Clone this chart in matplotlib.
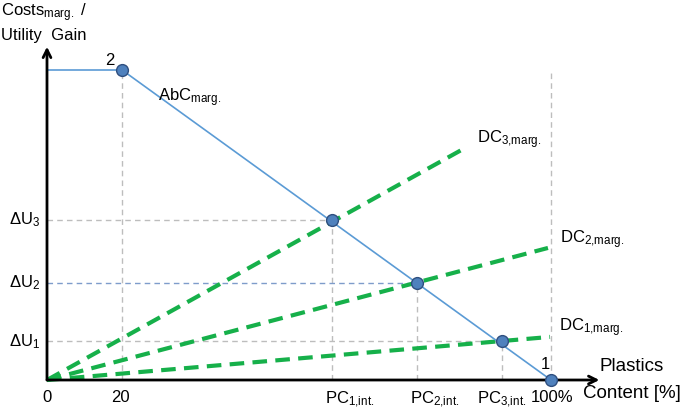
import matplotlib
matplotlib.use('Agg')
import matplotlib.pyplot as plt

plt.rcParams['font.family'] = ['Liberation Sans', 'DejaVu Sans']
plt.rcParams['mathtext.fontset'] = 'custom'
plt.rcParams['mathtext.rm'] = 'Liberation Sans'
plt.rcParams['mathtext.it'] = 'Liberation Sans'

# abatement cost curve (AbC): plateau then linear drop
abc_x = [0, 14.9, 100]
abc_y = [100, 100, 0]

# intersection points of AbC with the DC lines
pc_x = [56.6, 73.4, 90.3]
pc_y = [51.6, 31.3, 12.5]
pc_labels = ['PC$_{\\mathrm{1{,}int.}}$', 'PC$_{\\mathrm{2{,}int.}}$', 'PC$_{\\mathrm{3{,}int.}}$']
pc_label_left = [55.2, 72.0, 85.3]
du_labels = ['$\\Delta$U$_3$', '$\\Delta$U$_2$', '$\\Delta$U$_1$']

# marginal damage cost lines from origin: end points
dc_end_x = [82.9, 99.4, 99.8]
dc_end_y = [74.8, 42.6, 13.9]
dc_labels = ['DC$_{\\mathrm{3{,}marg.}}$', 'DC$_{\\mathrm{2{,}marg.}}$', 'DC$_{\\mathrm{1{,}marg.}}$']

xtick_pos = [0, 14.5, 100.2]
xtick_txt = ['0', '20', '100%']

blue = '#5B9BD5'
dot_face = '#4F81BD'
dot_edge = '#2F4F7F'
green = '#16B04A'
grey = '#BDBDBD'

fig = plt.figure(figsize=(6.85, 4.12), dpi=100)
ax = fig.add_axes([0, 0, 1, 1])
ax.set_xlim(-9.325, 126.59)
ax.set_ylim(-10.32, 122.58)
ax.axis('off')

# helper grid lines
ax.plot([abc_x[1], abc_x[1]], [0, abc_y[1]], ls=(0, (4, 3)), color=grey, lw=1)
ax.plot([100, 100], [0, 99], ls=(0, (4, 3)), color=grey, lw=1)
for i, (x, y) in enumerate(zip(pc_x, pc_y)):
    ax.plot([x, x], [0, y], ls=(0, (4, 3)), color=grey, lw=1)
    hc = '#7E9CCB' if i == 1 else grey
    ax.plot([0, x], [y, y], ls=(0, (4, 3)), color=hc, lw=1)

# DC lines
for ex, ey in zip(dc_end_x, dc_end_y):
    ax.plot([0, ex], [0, ey], ls=(0, (3.5, 2)), color=green, lw=3)

# AbC curve
ax.plot(abc_x, abc_y, color=blue, lw=1.2)
ax.plot([abc_x[1], abc_x[2]], [abc_y[1], abc_y[2]], 'o', ms=8.5,
        mfc=dot_face, mec=dot_edge, mew=1, zorder=5)
ax.plot(pc_x, pc_y, 'o', ms=8.5, mfc=dot_face, mec=dot_edge, mew=1, zorder=5)

# axes with arrows
ax.annotate('', xy=(0, 107.5), xytext=(0, 0),
            arrowprops=dict(arrowstyle='->', lw=2, color='black', mutation_scale=14, shrinkA=0, shrinkB=0))
ax.annotate('', xy=(109.6, 0), xytext=(0, 0),
            arrowprops=dict(arrowstyle='->', lw=2, color='black', mutation_scale=14, shrinkA=0, shrinkB=0))

fs = 12
# texts
ax.text(-9.1, 122, 'Costs$_{\\mathrm{marg.}}$ /', fontsize=fs, va='top', ha='left')
ax.text(-9.1, 113.5, 'Utility  Gain', fontsize=fs, va='top', ha='left')
ax.text(13.4, 100.8, '2', fontsize=fs, ha='right', va='bottom')
ax.text(98.9, 2.5, '1', fontsize=fs, ha='center', va='bottom')
ax.text(22, 91, 'AbC$_{\\mathrm{marg.}}$', fontsize=fs, ha='left', va='center')
ax.text(85.3, 77.5, dc_labels[0], fontsize=fs, ha='left', va='center')
ax.text(101.8, 45.2, dc_labels[1], fontsize=fs, ha='left', va='center')
ax.text(101.5, 16.8, dc_labels[2], fontsize=fs, ha='left', va='center')

for y, lab in zip(pc_y, du_labels):
    ax.text(-1.4, y, lab, fontsize=fs, ha='right', va='center')

for x, lab in zip(pc_label_left, pc_labels):
    ax.text(x, -3.2, lab, fontsize=fs, ha='left', va='top')
for x, lab in zip(xtick_pos, xtick_txt):
    ax.text(x, -3.2, lab, fontsize=fs, ha='center', va='top')

ax.text(109.7, 1.6, 'Plastics', fontsize=13.5, ha='left', va='bottom')
ax.text(106.4, -1.5, 'Content [%]', fontsize=13.5, ha='left', va='top')

fig.savefig('out.png', dpi=100)
